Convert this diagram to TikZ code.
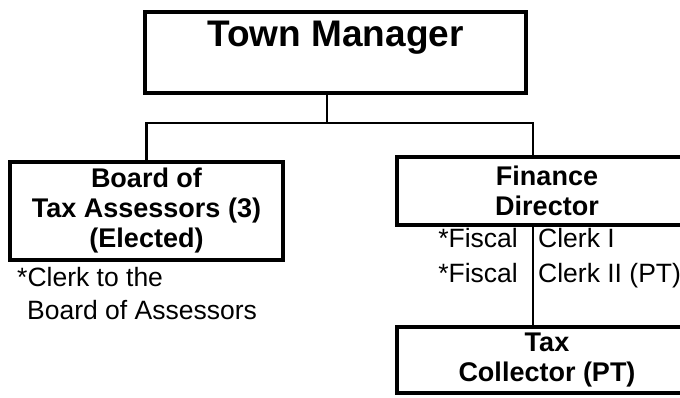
\documentclass[tikz,border=0pt]{standalone}
\usepackage{fontspec}
\setmainfont{Liberation Sans}
\usetikzlibrary{positioning}

\begin{document}
\begin{tikzpicture}[x=1pt, y=1pt,
    box/.style={draw, line width=4pt, inner sep=0pt, align=center,
        font=\bfseries\fontsize{27}{30}\selectfont},
    link/.style={line width=2.5pt},
    note/.style={inner sep=0pt, font=\fontsize{26.5}{30}\selectfont}]
            \useasboundingbox (0,0) rectangle (680,398);

            % Kästen
            \node[box, minimum width=381pt, text height=35pt, text depth=46pt,
                font=\bfseries\fontsize{37}{40}\selectfont] (tm) at (335.5,345.5) {Town Manager};
            \node[box, minimum width=273pt, minimum height=98pt] (board) at (146.5,187)
                {Board of\\Tax Assessors (3)\\(Elected)};
            \node[box, minimum width=300pt, minimum height=68pt] (fd) at (547,207)
                {Finance\\Director};
            \node[box, minimum width=300pt, minimum height=66pt] (tc) at (547,38)
                {Tax\\Collector (PT)};

            % Verbindungen
            \coordinate (bus) at (327,275);
            \coordinate (drop) at (533,275);
            \draw[link] (bus |- tm.south) -- (bus);
            \draw[link] (board.north) |- (drop) -- (drop |- fd.north);
            \draw[link] (drop |- fd.south) -- (drop |- tc.north);

            % Texte
            \node[note, anchor=base east] (fisc1) at (518,150) {*Fiscal};
            \node[note, anchor=base west] (clerk1) at (538,150) {Clerk I};
            \node[note, anchor=base east] (fisc2) at (518,115) {*Fiscal};
            \node[note, anchor=base west] (clerk2) at (538,115) {Clerk II (PT)};
            \node[note, anchor=base west] (ctb) at (17,111) {*Clerk to the};
            \node[note, anchor=base west] (boa) at (27,78) {Board of Assessors};
        \end{tikzpicture}
\end{document}
